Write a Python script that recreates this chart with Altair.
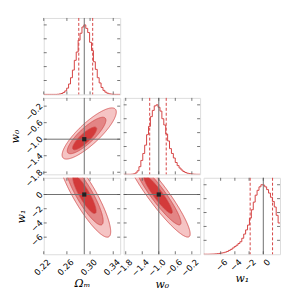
import altair as alt
import numpy as np
import pandas as pd

W = 77
H = 77
GAP = 3.5

OM_DOMAIN = [0.22, 0.352]
W0_DOMAIN = [-1.85, 0.0]
W1_DOMAIN = [-8.4, 2.35]
HIST_DOMAIN = [0, 1.1]

OM_TICKS = [0.22, 0.26, 0.30, 0.34]
W0_TICKS = [-1.8, -1.4, -1.0, -0.6, -0.2]
W1_TICKS = [-6, -4, -2, 0]
HIST_TICKS = [0.2, 0.4, 0.6, 0.8, 1.0]

OM_TRUE = 0.29
W0_TRUE = -1.0
W1_TRUE = 0.0

# normalised histogram heights (40 bins across each axis range)
OM_HIST = [0, 0, 0, 0, 0, 0, 0, 0.002, 0.006, 0.013,
           0.028, 0.05, 0.09, 0.15, 0.24, 0.35, 0.49, 0.61, 0.78, 0.88,
           0.97, 1.0, 0.95, 0.89, 0.75, 0.63, 0.47, 0.36, 0.24, 0.165,
           0.1, 0.058, 0.032, 0.017, 0.008, 0.004, 0.001, 0, 0, 0]
W0_HIST = [0, 0, 0, 0, 0.002, 0.006, 0.02, 0.05, 0.11, 0.2,
           0.3, 0.42, 0.57, 0.69, 0.83, 0.92, 0.985, 1.0, 0.965, 0.91,
           0.8, 0.71, 0.58, 0.48, 0.37, 0.3, 0.235, 0.17, 0.125, 0.09,
           0.062, 0.04, 0.026, 0.016, 0.01, 0.006, 0.003, 0.001, 0, 0]
W1_HIST = [0, 0, 0, 0.001, 0.002, 0.003, 0.005, 0.008, 0.012, 0.017,
           0.022, 0.03, 0.04, 0.055, 0.07, 0.09, 0.11, 0.13, 0.155, 0.18,
           0.23, 0.29, 0.35, 0.42, 0.52, 0.64, 0.75, 0.85, 0.92, 0.97,
           1.0, 0.995, 0.97, 0.93, 0.88, 0.82, 0.76, 0.68, 0.56, 0.45]

OM_Q = [0.2805, 0.3045]
W0_Q = [-1.22, -0.82]
W1_Q = [-1.85, 1.3]

# 2-D credible contours (outer, middle, inner)
LEVEL_K = [3.44, 2.45, 1.52]
LEVEL_FILL = ["#f5c4c4", "#e38585", "#d33a3a"]

A_CX = [0.2985, 0.2940, 0.2906]
A_CY = [-0.862, -0.910, -0.981]
A_SX, A_SY, A_RHO = 0.0136, 0.18, 0.84

B_CX = [0.2903, 0.2903, 0.2903]
B_CY = [0.0, 0.0, 0.0]
B_SX, B_SY, B_RHO = 0.01317, 1.744, -0.87

C_CX = [-1.018, -1.018, -1.018]
C_CY = [0.0, 0.0, 0.0]
C_SX, C_SY, C_RHO = 0.226, 1.74, -0.925

FRAME = "#555555"
TRUTHC = "#707070"
REDLINE = "#d64545"
EDGE = "#d24a4a"
TICKLEN = 3


def scale(dom):
    return alt.Scale(domain=dom, zero=False, nice=False)


def axis_x(title, ticks, fmt):
    return alt.Axis(title=title, values=ticks, format=fmt, labelAngle=315,
                    labelFontSize=8.5, labelFont="DejaVu Sans", labelColor="black",
                    tickSize=0, domain=False, grid=False, labelPadding=3,
                    labelOffset=2, labelOverlap=False, labelBound=False,
                    titleFont="DejaVu Serif", titleFontStyle="italic",
                    titleFontWeight="normal", titleFontSize=11, titleColor="black",
                    titlePadding=1)


def axis_y(title, ticks, fmt):
    return alt.Axis(title=title, values=ticks, format=fmt, labelAngle=315,
                    labelFontSize=8.5, labelFont="DejaVu Sans", labelColor="black",
                    tickSize=0, domain=False, grid=False, labelPadding=3,
                    labelOffset=-2, labelOverlap=False, labelBound=False,
                    titleFont="DejaVu Serif", titleFontStyle="italic",
                    titleFontWeight="normal", titleFontSize=11, titleColor="black",
                    titlePadding=3)


def tick_layers(xdom, xticks, xax, ydom, yticks, yax):
    layers = []
    dx = pd.DataFrame({"tv": xticks})
    for a, b in [(H, H - TICKLEN), (0, TICKLEN)]:
        layers.append(alt.Chart(dx).mark_rule(color=FRAME, strokeWidth=0.8).encode(
            x=alt.X("tv:Q", scale=scale(xdom), axis=xax),
            y=alt.value(a), y2=alt.value(b)))
    dy = pd.DataFrame({"tu": yticks})
    for a, b in [(0, TICKLEN), (W, W - TICKLEN)]:
        layers.append(alt.Chart(dy).mark_rule(color=FRAME, strokeWidth=0.8).encode(
            y=alt.Y("tu:Q", scale=scale(ydom), axis=yax),
            x=alt.value(a), x2=alt.value(b)))
    return layers


def hist_panel(heights, dom, ticks, q, truth, xax):
    edges = np.linspace(dom[0], dom[1], len(heights) + 1)
    df = pd.DataFrame({"x": edges, "h": list(heights) + [heights[-1]]})
    line = alt.Chart(df).mark_line(interpolate="step-after", color=REDLINE,
                                   strokeWidth=1, clip=True).encode(
        x=alt.X("x:Q", scale=scale(dom), axis=xax),
        y=alt.Y("h:Q", scale=scale(HIST_DOMAIN), axis=None))
    qs = alt.Chart(pd.DataFrame({"q": q})).mark_rule(
        color=REDLINE, strokeDash=[3, 2], strokeWidth=1).encode(
        x=alt.X("q:Q", scale=scale(dom), axis=xax))
    tr = alt.Chart(pd.DataFrame({"t": [truth]})).mark_rule(
        color=TRUTHC, strokeWidth=1).encode(x=alt.X("t:Q", scale=scale(dom), axis=xax))
    layers = tick_layers(dom, ticks, xax, HIST_DOMAIN, HIST_TICKS, None)
    return alt.layer(line, qs, tr, *layers).properties(width=W, height=H)


def ellipse_df(cx, cy, sx, sy, rho, k):
    t = np.linspace(0, np.pi, 160)
    x = cx + k * sx * np.cos(t)
    yc = cy + rho * sy * k * np.cos(t)
    half = k * sy * np.sqrt(1 - rho ** 2) * np.sin(t)
    return pd.DataFrame({"x": x, "lo": yc - half, "hi": yc + half})


def contour_panel(cxs, cys, sx, sy, rho, xdom, ydom, xticks, yticks, tx, ty, xax, yax):
    layers = []
    for cx, cy, k, fill in zip(cxs, cys, LEVEL_K, LEVEL_FILL):
        d = ellipse_df(cx, cy, sx, sy, rho, k)
        layers.append(alt.Chart(d).mark_area(color=fill, fillOpacity=1, stroke=EDGE,
                                             strokeWidth=0.8, clip=True).encode(
            x=alt.X("x:Q", scale=scale(xdom), axis=xax),
            y=alt.Y("lo:Q", scale=scale(ydom), axis=yax),
            y2="hi:Q"))
    tdf = pd.DataFrame({"tx": [tx], "ty": [ty]})
    vline = alt.Chart(tdf).mark_rule(color=TRUTHC, strokeWidth=1).encode(
        x=alt.X("tx:Q", scale=scale(xdom), axis=xax))
    hline = alt.Chart(tdf).mark_rule(color=TRUTHC, strokeWidth=1).encode(
        y=alt.Y("ty:Q", scale=scale(ydom), axis=yax))
    pt = alt.Chart(tdf).mark_square(color="#222222", size=18, opacity=1).encode(
        x=alt.X("tx:Q", scale=scale(xdom), axis=xax),
        y=alt.Y("ty:Q", scale=scale(ydom), axis=yax))
    layers += [vline, hline, pt]
    layers += tick_layers(xdom, xticks, xax, ydom, yticks, yax)
    return alt.layer(*layers).properties(width=W, height=H)


def empty():
    return alt.Chart(pd.DataFrame({"e": [0]})).mark_point(opacity=0).encode(
        x=alt.X("e:Q", axis=None), y=alt.Y("e:Q", axis=None)
    ).properties(width=W, height=H, view=alt.ViewBackground(strokeOpacity=0))


ax_om = axis_x("Ωₘ", OM_TICKS, ".2f")
ax_w0 = axis_x("w₀", W0_TICKS, ".1f")
ax_w1 = axis_x("w₁", W1_TICKS, "d")
ay_w0 = axis_y("w₀", W0_TICKS, ".1f")
ay_w1 = axis_y("w₁", W1_TICKS, "d")

p00 = hist_panel(OM_HIST, OM_DOMAIN, OM_TICKS, OM_Q, OM_TRUE, None)
p11 = hist_panel(W0_HIST, W0_DOMAIN, W0_TICKS, W0_Q, W0_TRUE, None)
p22 = hist_panel(W1_HIST, W1_DOMAIN, W1_TICKS, W1_Q, W1_TRUE, ax_w1)

p10 = contour_panel(A_CX, A_CY, A_SX, A_SY, A_RHO, OM_DOMAIN, W0_DOMAIN,
                    OM_TICKS, W0_TICKS, OM_TRUE, W0_TRUE, None, ay_w0)
p20 = contour_panel(B_CX, B_CY, B_SX, B_SY, B_RHO, OM_DOMAIN, W1_DOMAIN,
                    OM_TICKS, W1_TICKS, OM_TRUE, W1_TRUE, ax_om, ay_w1)
p21 = contour_panel(C_CX, C_CY, C_SX, C_SY, C_RHO, W0_DOMAIN, W1_DOMAIN,
                    W0_TICKS, W1_TICKS, W0_TRUE, W1_TRUE, ax_w0, None)

chart = alt.concat(p00, empty(), empty(),
                   p10, p11, empty(),
                   p20, p21, p22,
                   columns=3, spacing=GAP, bounds="flush", align="all").properties(
    padding={"left": 1, "top": 8, "right": 2, "bottom": 0}
).configure_view(stroke=FRAME, strokeWidth=1.2).configure(font="DejaVu Sans")

chart.save("out.html", embed_options={"renderer": "svg", "actions": False})
